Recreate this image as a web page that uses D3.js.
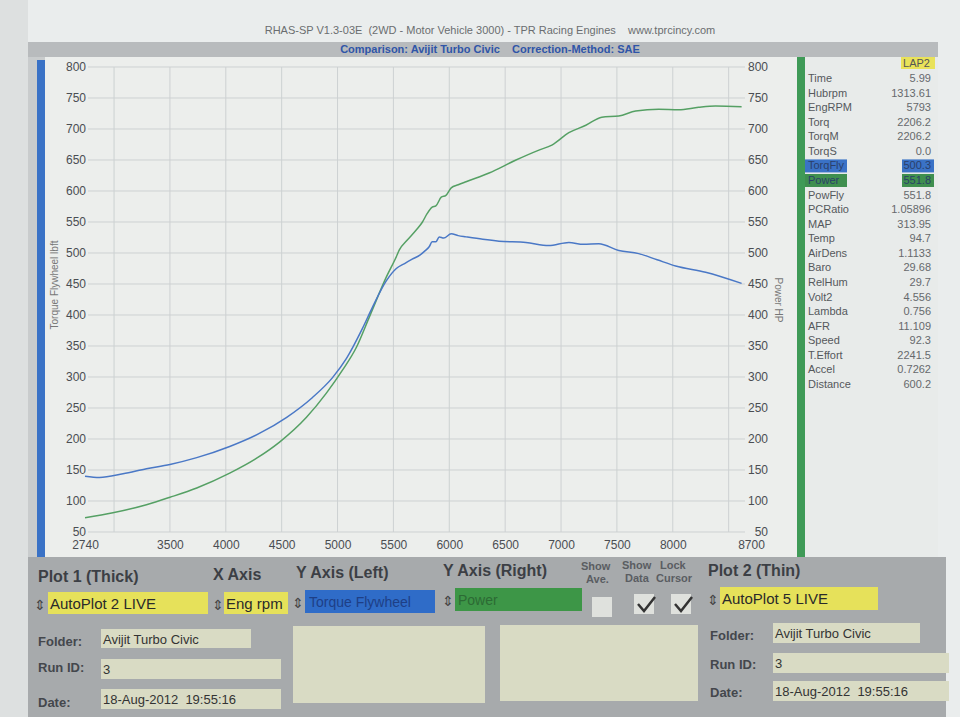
<!DOCTYPE html>
<html><head><meta charset="utf-8">
<script src="https://cdn.jsdelivr.net/npm/d3@7"></script>
<style>body{margin:0;background:#e9ecec;}svg{display:block;font-family:"Liberation Sans",Arial,sans-serif;}</style>
</head><body>
<script>
// ---- data ----
const torqueRpm = [2740,2870,3080,3290,3500,3740,4035,4300,4545,4776,4955,5080,5222,5311,5436,5526,5600,5668,5740,5780,5820,5847,5880,5910,5950,6017,6080,6150,6300,6445,6686,6890,7070,7200,7338,7517,7695,7860,8026,8294,8616];
const torqueVal = [140,138,144,152,159,170,188,209,235,267,299,330,378,412,455,475,483,490,497,503,510,518,518,526,524,531,528,526,522,519,517,512,517,514,515,504,499,489,479,469,451];
const powerRpm = [2740,2990,3290,3500,3740,4035,4276,4481,4722,4900,5044,5169,5285,5436,5526,5553,5620,5704,5760,5800,5847,5880,5928,5970,6017,6080,6150,6356,6597,6802,6918,7070,7222,7365,7517,7668,7874,8053,8231,8383,8616];
const powerVal = [73,81,94,106,121,145,169,195,235,274,311,348,397,461,494,505,520,537,550,563,574,576,590,593,605,610,615,629,650,666,674,694,706,719,721,729,732,731,735,737,736];
const xTickLabels = [2740,3500,4000,4500,5000,5500,6000,6500,7000,7500,8000,8700];
const xGrid = [3000,3500,4000,4500,5000,5500,6000,6500,7000,7500,8000,8500];
const yTicks = [50,100,150,200,250,300,350,400,450,500,550,600,650,700,750,800];
const panelLabels = ["Time","Hubrpm","EngRPM","Torq","TorqM","TorqS","TorqFly","Power","PowFly","PCRatio","MAP","Temp","AirDens","Baro","RelHum","Volt2","Lambda","AFR","Speed","T.Effort","Accel","Distance"];
const panelValues = ["5.99","1313.61","5793","2206.2","2206.2","0.0","500.3","551.8","551.8","1.05896","313.95","94.7","1.1133","29.68","29.7","4.556","0.756","11.109","92.3","2241.5","0.7262","600.2"];

const W=960,H=717;
const svg=d3.select("body").append("svg").attr("width",W).attr("height",H);

// page / frames
svg.append("rect").attr("x",0).attr("y",0).attr("width",W).attr("height",H).attr("fill","#eaeded");
svg.append("rect").attr("x",0).attr("y",0).attr("width",28).attr("height",H).attr("fill","#dde0e0");
svg.append("rect").attr("x",28).attr("y",42).attr("width",910).attr("height",675).attr("fill","#c9cccd");
svg.append("rect").attr("x",28).attr("y",42).attr("width",910).attr("height",15).attr("fill","#b8bbbd");
svg.append("text").attr("x",490).attr("y",34).attr("text-anchor","middle").attr("font-size",11).attr("fill","#6a6d70")
  .attr("xml:space","preserve").text("RHAS-SP V1.3-03E  (2WD - Motor Vehicle 3000) - TPR Racing Engines    www.tprcincy.com");
svg.append("text").attr("x",490).attr("y",53).attr("text-anchor","middle").attr("font-size",11).attr("font-weight","bold").attr("fill","#2f55a8")
  .attr("xml:space","preserve").text("Comparison: Avijit Turbo Civic    Correction-Method: SAE");

// chart area
svg.append("rect").attr("x",45).attr("y",57).attr("width",752).attr("height",500).attr("fill","#eceeec");
svg.append("rect").attr("x",37).attr("y",60).attr("width",8).attr("height",497).attr("fill","#3a72c6");
svg.append("rect").attr("x",797).attr("y",57).attr("width",8).attr("height",500).attr("fill","#3f9a57");
// right panel
svg.append("rect").attr("x",805).attr("y",57).attr("width",133).attr("height",500).attr("fill","#e8ebea");

const x=d3.scaleLinear().domain([2740,8700]).range([85,751]);
const yL=d3.scaleLinear().domain([50,800]).range([532,67]);
const yR=d3.scaleLinear().domain([50,800]).range([532,67]);

// grid
const g=svg.append("g");
g.selectAll(".hg").data(yTicks).join("line").attr("x1",88).attr("x2",745)
  .attr("y1",d=>yL(d)).attr("y2",d=>yL(d)).attr("stroke","#cdd1d2").attr("stroke-width",1);
g.selectAll(".vg").data(xGrid).join("line").attr("y1",yL(800)).attr("y2",yL(50))
  .attr("x1",d=>x(d)).attr("x2",d=>x(d)).attr("stroke","#cdd1d2").attr("stroke-width",1);

// axes via d3 axis
const axL=svg.append("g").attr("transform","translate(88,0)")
  .call(d3.axisLeft(yL).tickValues(yTicks).tickSize(0).tickPadding(2));
const axR=svg.append("g").attr("transform","translate(748,0)")
  .call(d3.axisRight(yR).tickValues(yTicks).tickSize(0).tickPadding(2));
const axB=svg.append("g").attr("transform","translate(0,538)")
  .call(d3.axisBottom(x).tickValues(xTickLabels).tickFormat(d3.format("d")).tickSize(0).tickPadding(2));
[axL,axR,axB].forEach(a=>{a.select(".domain").remove();a.selectAll("text").attr("font-size",12).attr("fill","#4a4d52").attr("font-family","Liberation Sans, Arial, sans-serif");});
axR.selectAll("text").attr("text-anchor","end").attr("x",20);

svg.append("text").attr("transform","translate(58,285) rotate(-90)").attr("text-anchor","middle")
  .attr("font-size",10).attr("fill","#777").text("Torque Flywheel lbft");
svg.append("text").attr("transform","translate(775,300) rotate(90)").attr("text-anchor","middle")
  .attr("font-size",10).attr("fill","#777").text("Power HP");

// lines
const tData=torqueRpm.map((r,i)=>[r,torqueVal[i]]);
const pData=powerRpm.map((r,i)=>[r,powerVal[i]]);
svg.append("path").datum(pData).attr("fill","none").attr("stroke","#55a064").attr("stroke-width",1.5)
  .attr("d",d3.line().x(d=>x(d[0])).y(d=>yR(d[1])).curve(d3.curveMonotoneX));
svg.append("path").datum(tData).attr("fill","none").attr("stroke","#4a78c6").attr("stroke-width",1.5)
  .attr("d",d3.line().x(d=>x(d[0])).y(d=>yL(d[1])).curve(d3.curveMonotoneX));

// right data panel
svg.append("rect").attr("x",901).attr("y",57).attr("width",34).attr("height",12).attr("fill","#e9e25a");
svg.append("text").attr("x",930).attr("y",67).attr("text-anchor","end").attr("font-size",11).attr("fill","#555").text("LAP2");
const rowY=i=>82+i*14.57;
panelLabels.forEach((l,i)=>{
  if(l==="TorqFly"){svg.append("rect").attr("x",805).attr("y",rowY(i)-10).attr("width",42).attr("height",13).attr("fill","#3a72c6");
    svg.append("rect").attr("x",902).attr("y",rowY(i)-10).attr("width",32).attr("height",13).attr("fill","#3a72c6");}
  if(l==="Power"){svg.append("rect").attr("x",805).attr("y",rowY(i)-10).attr("width",42).attr("height",13).attr("fill","#3f8f4f");
    svg.append("rect").attr("x",902).attr("y",rowY(i)-10).attr("width",32).attr("height",13).attr("fill","#3f8f4f");}
  const hl=(l==="TorqFly"||l==="Power");
  svg.append("text").attr("x",808).attr("y",rowY(i)).attr("font-size",11).attr("fill",hl?"#2b3f6a":"#55585c").text(l);
  svg.append("text").attr("x",931).attr("y",rowY(i)).attr("text-anchor","end").attr("font-size",11).attr("fill",hl?"#2b3f6a":"#66696c").text(panelValues[i]);
});

// bottom control panel
svg.append("rect").attr("x",28).attr("y",557).attr("width",918).attr("height",160).attr("fill","#a7aaac");
const bold=(t,xx,yy,fs)=>svg.append("text").attr("x",xx).attr("y",yy).attr("font-size",fs||16).attr("font-weight","bold").attr("fill","#3c3f45").text(t);
bold("Plot 1 (Thick)",38,582);
bold("X Axis",213,580);
bold("Y Axis (Left)",296,578);
bold("Y Axis (Right)",443,576);
bold("Plot 2 (Thin)",708,576);
const small=(t,xx,yy)=>svg.append("text").attr("x",xx).attr("y",yy).attr("font-size",11).attr("font-weight","bold").attr("fill","#5a5d62").text(t);
small("Show",581,570);small("Ave.",586,583);
small("Show",622,569);small("Data",625,582);
small("Lock",660,569);small("Cursor",656,582);

const box=(xx,yy,w,h,fill)=>svg.append("rect").attr("x",xx).attr("y",yy).attr("width",w).attr("height",h).attr("fill",fill);
const arrows=(xx,yy)=>svg.append("text").attr("x",xx).attr("y",yy).attr("font-size",14).attr("fill","#444").text("⇕");
box(48,592,160,22,"#e6e15a");arrows(34,610);
svg.append("text").attr("x",50).attr("y",609).attr("font-size",15).attr("fill","#2a2a2a").text("AutoPlot 2 LIVE");
box(224,592,64,22,"#e6e15a");arrows(212,610);
svg.append("text").attr("x",226).attr("y",609).attr("font-size",15).attr("fill","#2a2a2a").text("Eng rpm");
box(305,590,130,23,"#2f6cc8");arrows(292,608);
svg.append("text").attr("x",309).attr("y",607).attr("font-size",14).attr("fill","#1e3f86").text("Torque Flywheel");
box(455,588,127,23,"#3d9647");arrows(442,606);
svg.append("text").attr("x",458).attr("y",605).attr("font-size",14).attr("fill","#2c6a34").text("Power");
// checkboxes
box(592,597,20,20,"#dfe1dd");box(634,594,20,20,"#dfe1dd");box(671,594,20,20,"#dfe1dd");
[[636,594],[673,594]].forEach(([cx,cy])=>svg.append("path").attr("d",`M${cx+2},${cy+10} L${cx+8},${cy+17} L${cx+19},${cy+3}`).attr("fill","none").attr("stroke","#333").attr("stroke-width",2.5));
box(720,587,158,23,"#e6e15a");arrows(707,605);
svg.append("text").attr("x",722).attr("y",604).attr("font-size",15).attr("fill","#2a2a2a").text("AutoPlot 5 LIVE");

const lab=(t,xx,yy)=>svg.append("text").attr("x",xx).attr("y",yy).attr("font-size",13).attr("font-weight","bold").attr("fill","#44474c").text(t);
const val=(t,xx,yy)=>svg.append("text").attr("x",xx).attr("y",yy).attr("font-size",13).attr("fill","#333").attr("xml:space","preserve").text(t);
const beige="#d9dbc4";
lab("Folder:",38,646);box(101,629,150,19,beige);val("Avijit Turbo Civic",103,644);
lab("Run ID:",38,672);box(101,659,180,20,beige);val("3",103,674);
lab("Date:",38,707);box(101,689,180,20,beige);val("18-Aug-2012  19:55:16",103,704);
box(293,626,192,77,beige);
box(500,625,198,76,beige);
lab("Folder:",710,640);box(773,623,147,20,beige);val("Avijit Turbo Civic",775,638);
lab("Run ID:",710,669);box(773,653,176,20,beige);val("3",775,668);
lab("Date:",710,697);box(773,681,176,20,beige);val("18-Aug-2012  19:55:16",775,696);
</script>
</body></html>
